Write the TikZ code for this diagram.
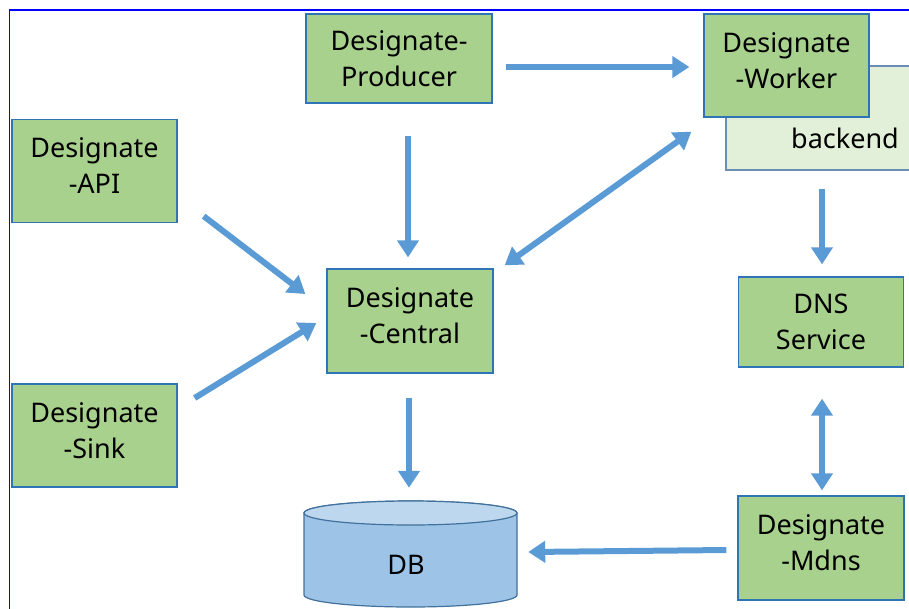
\documentclass[tikz,border=0pt]{standalone}
\usepackage{fontspec}
\setmainfont{Noto Sans}
\usepackage{tikz}
\usetikzlibrary{arrows.meta}
\tikzset{>=latex}
\usetikzlibrary{calc}

\definecolor{boxgreen}{HTML}{A9D18E}
\definecolor{boxline}{HTML}{2E75B6}
\definecolor{flowblue}{HTML}{5B9BD5}
\definecolor{backgreen}{HTML}{E2F0D9}
\definecolor{backline}{HTML}{6A8DB5}
\definecolor{dbbody}{HTML}{9DC3E6}
\definecolor{dbtop}{HTML}{BDD7EE}
\definecolor{dbline}{HTML}{41719C}

\tikzset{
  svc/.style={draw=boxline, fill=boxgreen, line width=1.3pt, align=center,
    inner sep=0pt, minimum width=165, minimum height=103, text depth=10pt,
    font=\fontsize{27}{36}\selectfont},
  flow/.style={draw=flowblue, line width=6pt, -{Triangle[length=17pt,width=21pt]}},
  biflow/.style={flow, {Triangle[length=17pt,width=21pt]}-{Triangle[length=17pt,width=21pt]}}
}

\begin{document}
\begin{tikzpicture}[x=1pt, y=-1pt]
    \useasboundingbox (0,0) rectangle (909,608);

    % outer frame
    \draw[blue, line width=1.6pt] (9.5,620) -- (9.5,10) -- (920,10);

    % backend sits behind the worker
    \node[draw=backline, fill=backgreen, line width=1.2pt, minimum width=192, minimum height=104] (backend) at (822,118) {};
    \node[font=\fontsize{27}{36}\selectfont] (backendtxt) at (845,138) {backend};

    \node[svc, minimum width=186, minimum height=89, text depth=-3pt] (producer) at (399,58.5) {Designate-\\Producer};
    \node[svc] (worker) at (786.5,65.5) {Designate\\-Worker};
    \node[svc] (api) at (94.5,171) {Designate\\-API};
    \node[svc] (sink) at (94.5,435.5) {Designate\\-Sink};
    \node[svc, minimum width=166, minimum height=104] (central) at (410,321) {Designate\\-Central};
    \node[svc, minimum height=90, text depth=-2pt] (dns) at (821,322) {DNS\\Service};
    \node[svc, minimum width=166, minimum height=104] (mdns) at (821,548) {Designate\\-Mdns};

    % database cylinder
    \node[minimum width=213, minimum height=106, inner sep=0pt] (db) at (410.5,554) {};
    \draw[dbline, fill=dbbody, line width=1.2pt]
      (304,513) -- (304,595) arc[start angle=180, end angle=360, x radius=106.5, y radius=-12]
      -- (517,513) arc[start angle=0, end angle=180, x radius=106.5, y radius=-12] -- cycle;
    \draw[dbline, fill=dbtop, line width=1.2pt] (410.5,513) ellipse[x radius=106.5, y radius=12];
    \node[font=\fontsize{27}{36}\selectfont] (dbtxt) at (406,565) {DB};

    % connectors
    \draw[flow] ([shift={(13,8.5)}]producer.east) -- ([shift={(-14,1.5)}]worker.west);
    \draw[flow] ([shift={(9,32)}]producer.south) -- ([shift={(-2,-11)}]central.north);
    \draw[flow] ([shift={(26,-7)}]api.south east) -- ([shift={(-21,-27)}]central.west);
    \draw[flow] ([shift={(17,-37.5)}]sink.east) -- ([shift={(-10,2)}]central.west);
    \draw[biflow] ([shift={(11,-3)}]central.north east) -- ([shift={(-12,14)}]worker.south west);
    \draw[flow] ([shift={(0,18)}]backend.south) -- ([shift={(1,-12)}]dns.north);
    \draw[biflow] ([shift={(1,31)}]dns.south) -- ([shift={(1,-5)}]mdns.north);
    \draw[flow] ([shift={(-1,24)}]central.south) -- ([shift={(-1.5,-13)}]db.north);
    \draw[flow] ([shift={(-11,2)}]mdns.west) -- ([shift={(11,-2)}]db.east);
\end{tikzpicture}
\end{document}
